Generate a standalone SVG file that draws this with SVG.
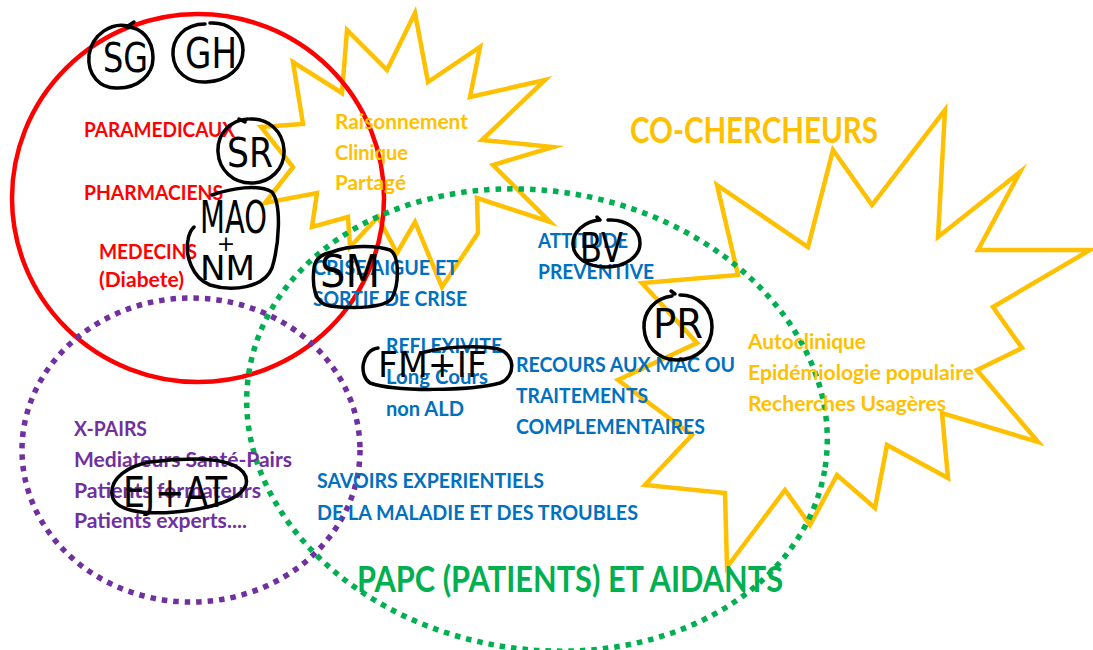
<svg xmlns="http://www.w3.org/2000/svg" width="1093" height="650" viewBox="0 0 1093 650">
<style>
.t{font-family:Lato,"Liberation Sans",sans-serif;font-weight:700}
.s21{font-size:21px}
.big{font-size:37px}
.red{fill:#FF0000}
.org{fill:#FFC000}
.blu{fill:#0070C0}
.pur{fill:#7030A0}
.grn{fill:#00B050}
.star{fill:none;stroke:#FFC000;stroke-width:4.5;stroke-linejoin:miter;stroke-miterlimit:12}
.dot{fill:none;stroke-width:5.5;stroke-dasharray:5.5 6;stroke-linecap:butt}
.ink{fill:none;stroke:#000;stroke-width:3.5;stroke-linecap:round;stroke-linejoin:round}
.hw{font-family:"DejaVu Sans","Liberation Sans",sans-serif;font-weight:400;fill:#000}
</style>
<rect width="1093" height="650" fill="#FFFFFF"/>
<g id="shapes">
<polygon id="star-raisonnement" class="star" points="415,13 428,82 480,47 470,97 545,80 482,140 553,147 493,165 550,222 477,198 478,233 442,287 415,222 397,253 378,217 350,247 348,217 312,227 317,193 265,203 293,167 261,127 303,124 293,62 342,93 347,30 387,70"/>
<polygon id="star-cochercheurs" class="star" points="717,185 808,247 833,150 872,205 945,110 938,237 1020,172 978,250 1090,250 993,307 1022,348 977,370 1038,442 942,413 948,478 887,445 875,508 837,475 810,525 785,490 727,567 725,493 645,485 692,435 618,380 697,343 642,283 738,275"/>
<ellipse id="red-circle" cx="198" cy="198" rx="186" ry="184" fill="none" stroke="#FF0000" stroke-width="4.5"/>
<ellipse id="purple-circle" class="dot" cx="191" cy="450" rx="169" ry="152" stroke="#7030A0"/>
<ellipse id="green-circle" class="dot" cx="537" cy="420" rx="292" ry="229" transform="rotate(10 537 420)" stroke="#00B050"/>
</g>
<g id="professionnels" class="t s21 red">
<text x="84" y="137" textLength="151" lengthAdjust="spacingAndGlyphs">PARAMEDICAUX</text>
<text x="84" y="200" textLength="139" lengthAdjust="spacingAndGlyphs">PHARMACIENS</text>
<text x="99" y="259" textLength="98" lengthAdjust="spacingAndGlyphs">MEDECINS</text>
<text x="99" y="287" textLength="85" lengthAdjust="spacingAndGlyphs">(Diabete)</text>
</g>
<g id="raisonnement" class="t s21 org">
<text x="335" y="129" textLength="133" lengthAdjust="spacingAndGlyphs">Raisonnement</text>
<text x="335" y="160" textLength="73" lengthAdjust="spacingAndGlyphs">Clinique</text>
<text x="335" y="190" textLength="71" lengthAdjust="spacingAndGlyphs">Partagé</text>
</g>
<g id="cochercheurs" class="t org">
<text class="big" x="630" y="143" textLength="248" lengthAdjust="spacingAndGlyphs">CO-CHERCHEURS</text>
<text class="s21" x="748" y="349" textLength="118" lengthAdjust="spacingAndGlyphs">Autoclinique</text>
<text class="s21" x="748" y="380" textLength="226" lengthAdjust="spacingAndGlyphs">Epidémiologie populaire</text>
<text class="s21" x="748" y="411" textLength="198" lengthAdjust="spacingAndGlyphs">Recherches Usagères</text>
</g>
<g id="savoirs" class="t s21 blu">
<text x="313" y="275" textLength="145" lengthAdjust="spacingAndGlyphs">CRISE AIGUE ET</text>
<text x="313" y="306" textLength="154" lengthAdjust="spacingAndGlyphs">SORTIE DE CRISE</text>
<text x="538" y="248" textLength="90" lengthAdjust="spacingAndGlyphs">ATTITUDE</text>
<text x="538" y="279" textLength="116" lengthAdjust="spacingAndGlyphs">PREVENTIVE</text>
<text x="386" y="353" textLength="116" lengthAdjust="spacingAndGlyphs">REFLEXIVITE</text>
<text x="386" y="384" textLength="102" lengthAdjust="spacingAndGlyphs">Long Cours</text>
<text x="386" y="416" textLength="78" lengthAdjust="spacingAndGlyphs">non ALD</text>
<text x="516" y="372" textLength="219" lengthAdjust="spacingAndGlyphs">RECOURS AUX MAC OU</text>
<text x="516" y="403" textLength="132" lengthAdjust="spacingAndGlyphs">TRAITEMENTS</text>
<text x="516" y="434" textLength="189" lengthAdjust="spacingAndGlyphs">COMPLEMENTAIRES</text>
<text x="317" y="488" textLength="227" lengthAdjust="spacingAndGlyphs">SAVOIRS EXPERIENTIELS</text>
<text x="317" y="520" textLength="321" lengthAdjust="spacingAndGlyphs">DE LA MALADIE ET DES TROUBLES</text>
</g>
<g id="pairs" class="t s21 pur">
<text x="74" y="436" textLength="73" lengthAdjust="spacingAndGlyphs">X-PAIRS</text>
<text x="74" y="467" textLength="218" lengthAdjust="spacingAndGlyphs">Mediateurs Santé-Pairs</text>
<text x="74" y="498" textLength="187" lengthAdjust="spacingAndGlyphs">Patients formateurs</text>
<text x="74" y="528" textLength="173" lengthAdjust="spacingAndGlyphs">Patients experts....</text>
</g>
<g id="papc" class="t grn">
<text class="big" x="357" y="592" textLength="426" lengthAdjust="spacingAndGlyphs">PAPC (PATIENTS) ET AIDANTS</text>
</g>
<g id="annotations">
<g id="ann-sg"><path class="ink" d="M128,26 C112,22 92,34 89,55 C87,75 100,89 118,88 C138,88 153,75 153,58 C153,40 142,27 126,27 M128,26 l6,-4"/><text class="hw" x="103" y="72" font-size="40" textLength="45" lengthAdjust="spacingAndGlyphs">SG</text></g>
<g id="ann-gh"><path class="ink" d="M205,24 C185,24 172,38 173,55 C174,72 188,83 206,82 C228,81 243,68 243,50 C243,33 228,22 210,23"/><text class="hw" x="185" y="68" font-size="42" textLength="52" lengthAdjust="spacingAndGlyphs">GH</text></g>
<g id="ann-sr"><path class="ink" d="M248,119 C230,120 217,134 218,152 C219,170 233,183 251,183 C270,183 285,169 284,150 C283,131 268,118 250,119 M245,122 l-6,-3"/><text class="hw" x="227" y="167" font-size="41" textLength="46" lengthAdjust="spacingAndGlyphs">SR</text></g>
<g id="ann-maonm"><path class="ink" d="M212,195 C232,188 258,184 272,192 C282,205 279,245 272,268 C264,288 232,292 210,285 C192,278 185,255 188,240 C189,233 191,230 194,227"/><text class="hw" x="200" y="233" font-size="44" textLength="67" lengthAdjust="spacingAndGlyphs">MAO</text><text class="hw" x="226" y="251" font-size="22" text-anchor="middle">+</text><text class="hw" x="200" y="280" font-size="34" textLength="55" lengthAdjust="spacingAndGlyphs">NM</text></g>
<g id="ann-sm"><path class="ink" d="M332,252 C350,245 375,245 390,250 C400,256 399,285 392,298 C385,308 355,309 330,306 C314,304 312,285 314,268 C315,258 322,254 332,252 Z"/><text class="hw" x="320" y="287" font-size="44" textLength="60" lengthAdjust="spacingAndGlyphs">SM</text></g>
<g id="ann-bv"><path class="ink" d="M600,220 C585,221 572,232 573,245 C574,258 588,267 606,267 C626,267 640,256 640,243 C640,229 626,219 608,220 M600,220 l-3,-3"/><text class="hw" x="580" y="262" font-size="40" textLength="43" lengthAdjust="spacingAndGlyphs">BV</text></g>
<g id="ann-pr"><path class="ink" d="M672,296 C655,298 643,312 644,328 C645,346 658,360 677,360 C697,360 712,346 712,327 C712,308 698,295 680,295 M675,294 l-4,-3"/><text class="hw" x="653" y="338" font-size="40" textLength="50" lengthAdjust="spacingAndGlyphs">PR</text></g>
<g id="ann-fmif"><path class="ink" d="M378,348 C362,350 358,375 370,383 C395,392 470,391 500,383 C516,377 516,354 498,349 C475,344 440,348 425,352"/><text class="hw" x="378" y="377" font-size="36" textLength="109" lengthAdjust="spacingAndGlyphs">FM+IF</text></g>
<g id="ann-ejat"><path class="ink" d="M150,462 C128,466 110,478 112,495 C114,510 140,515 175,512 C210,509 240,500 246,485 C250,468 228,459 195,459 C180,459 165,460 150,462 Z"/><text class="hw" x="123" y="507" font-size="42" textLength="104" lengthAdjust="spacingAndGlyphs">EJ+AT</text></g>
</g>
</svg>
